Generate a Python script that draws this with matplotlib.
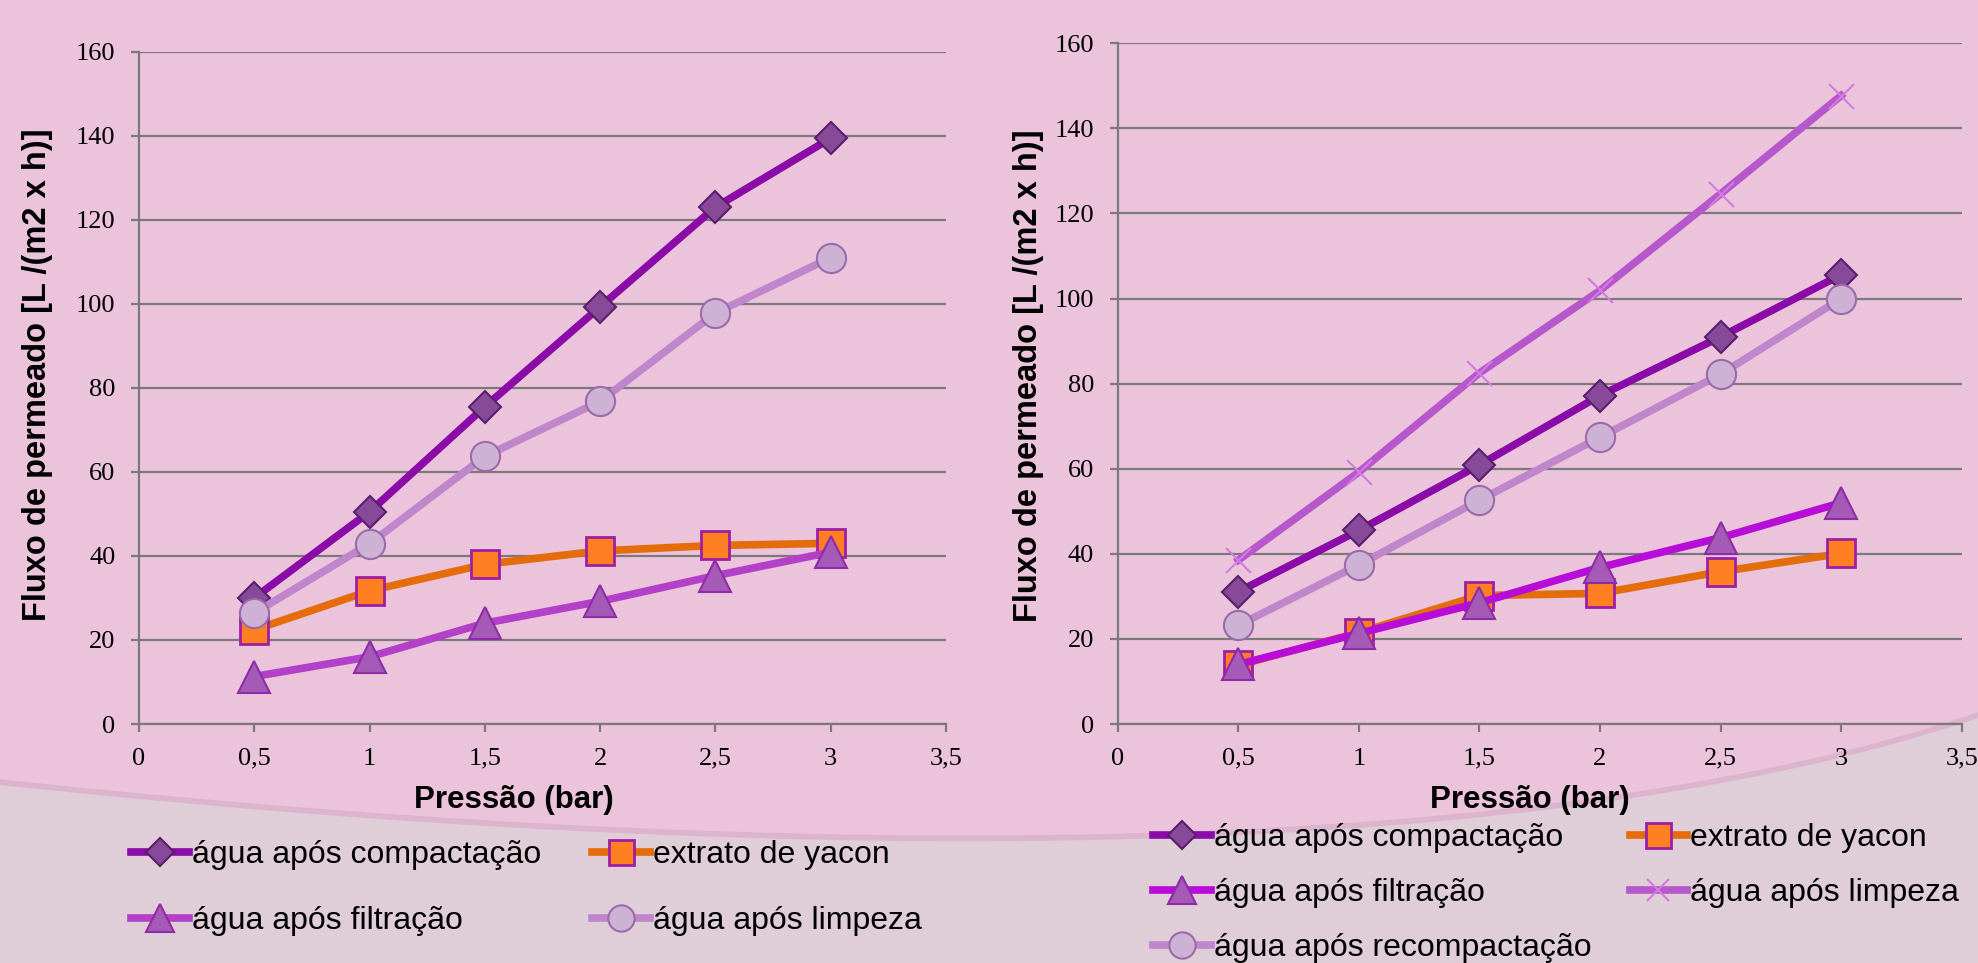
# %% Importing necessary libraries
import matplotlib.pyplot as plt
from matplotlib.path import Path
from matplotlib.patches import PathPatch

# %% Data
pressao = [0.5, 1, 1.5, 2, 2.5, 3]

# left chart
compact_a = [30, 50.5, 75.5, 99.3, 123, 139.4]
extrato_a = [22.4, 31.7, 38, 41.2, 42.5, 43]
filtr_a = [11.3, 16, 24, 29.2, 35.3, 40.9]
limpeza_a = [26.4, 42.9, 63.7, 76.8, 97.8, 111]

# right chart
compact_b = [31.1, 45.5, 60.9, 77.2, 91, 105.6]
extrato_b = [13.8, 21.5, 30.2, 30.7, 35.8, 40.1]
filtr_b = [14, 21.3, 28.5, 36.8, 43.8, 52]
limpeza_b = [38.5, 59.2, 82.5, 101.9, 124.6, 147.7]
recomp_b = [23.2, 37.4, 52.6, 67.4, 82.2, 100]

x_ticks = [0, 0.5, 1, 1.5, 2, 2.5, 3, 3.5]
x_tick_labels = ['0', '0,5', '1', '1,5', '2', '2,5', '3', '3,5']
y_ticks = [0, 20, 40, 60, 80, 100, 120, 140, 160]

W, H = 1978, 963

# %% Figure and background
fig = plt.figure(figsize=(W / 100, H / 100), dpi=100)
fig.patch.set_facecolor('#ebc4dc')


def fxy(px, py):
    # pixel (from top-left) -> figure fraction
    return (px / W, 1 - py / H)


# lower grey band with a curved edge
curve = [fxy(0, 785), fxy(700, 860), fxy(1500, 880), fxy(W, 718)]
verts = [fxy(0, H)] + curve + [fxy(W, H), fxy(0, H)]
codes = [Path.MOVETO, Path.LINETO, Path.CURVE4, Path.CURVE4, Path.CURVE4,
         Path.LINETO, Path.CLOSEPOLY]
shadow = [(x, y + 0.006) for x, y in verts]
fig.add_artist(PathPatch(Path(shadow, codes), facecolor='#dcb4ce', edgecolor='none',
                         transform=fig.transFigure, zorder=-2))
fig.add_artist(PathPatch(Path(verts, codes), facecolor='#dfcdd8', edgecolor='none',
                         transform=fig.transFigure, zorder=-1))

grid_col = '#7a7a7a'
tick_font = dict(family='Liberation Serif', size=19)
lab_font = dict(family='Liberation Sans', size=22.5, weight='bold')
ylab_font = dict(family='Liberation Sans', size=23.5, weight='bold')

s_compact = dict(color='#8a0ba8', marker='D', ms=16, mfc='#874a99', mec='#5c1c6e', mew=1.5)
s_extrato = dict(color='#e46c0a', marker='s', ms=20, mfc='#ff7f22', mec='#9e1fa5', mew=2)
s_filtr_a = dict(color='#b240c9', marker='^', ms=23, mfc='#a65ab8', mec='#8e2ba6', mew=1.5)
s_filtr_b = dict(color='#b80cd8', marker='^', ms=23, mfc='#a65ab8', mec='#8e2ba6', mew=1.5)
s_circ = dict(color='#bf86cc', marker='o', ms=21, mfc='#cdb2d6', mec='#9b6aa8', mew=1.5)
s_x = dict(color='#b658cc', marker='x', ms=18, mfc='#d47ae0', mec='#d47ae0', mew=1.5)


def style_axes(ax):
    ax.set_facecolor('none')
    ax.set_xlim(0, 3.5)
    ax.set_ylim(0, 160)
    ax.set_xticks(x_ticks)
    ax.set_xticklabels(x_tick_labels, fontdict=tick_font)
    ax.set_yticks(y_ticks)
    ax.set_yticklabels([str(v) for v in y_ticks], fontdict=tick_font)
    ax.tick_params(axis='both', direction='out', length=6, width=1.6, color=grid_col)
    ax.tick_params(axis='y', pad=11)
    ax.tick_params(axis='x', pad=11)
    for side in ['top', 'right']:
        ax.spines[side].set_visible(False)
    for side in ['left', 'bottom']:
        ax.spines[side].set_color(grid_col)
        ax.spines[side].set_linewidth(1.6)
    ax.yaxis.grid(True, color=grid_col, linewidth=1.6)
    ax.set_axisbelow(True)


leg_kw = dict(ncol=2, loc='upper left', frameon=False, borderpad=0, borderaxespad=0,
              prop=dict(family='Liberation Sans', size=23), handlelength=1.8,
              handletextpad=0.1, markerscale=0.9)

# %% Left chart
ax1 = fig.add_axes([139 / W, 1 - 724 / H, (946 - 139) / W, (724 - 51.7) / H])
style_axes(ax1)
l1 = ax1.plot(pressao, compact_a, lw=5.5, label='água após compactação', **s_compact)[0]
l2 = ax1.plot(pressao, extrato_a, lw=5.5, label='extrato de yacon', **s_extrato)[0]
l3 = ax1.plot(pressao, filtr_a, lw=5.5, label='água após filtração', **s_filtr_a)[0]
l4 = ax1.plot(pressao, limpeza_a, lw=5.5, label='água após limpeza', **s_circ)[0]

fig.text(38 / W, 1 - 375 / H, 'Fluxo de permeado [L /(m2 x h)]', rotation=90,
         ha='center', va='center', fontdict=ylab_font)
fig.text(514 / W, 1 - 800 / H, 'Pressão (bar)', ha='center', va='center', fontdict=lab_font)

fig.legend(handles=[l1, l3, l2, l4], bbox_to_anchor=fxy(131, 840),
           columnspacing=1.6, labelspacing=1.14, **leg_kw)

# %% Right chart
ax2 = fig.add_axes([1117.7 / W, 1 - 724 / H, (1961.7 - 1117.7) / W, (724 - 43.3) / H])
style_axes(ax2)
r1 = ax2.plot(pressao, compact_b, lw=5.5, label='água após compactação', **s_compact)[0]
r2 = ax2.plot(pressao, extrato_b, lw=5.5, label='extrato de yacon', **s_extrato)[0]
r3 = ax2.plot(pressao, filtr_b, lw=5.5, label='água após filtração', **s_filtr_b)[0]
r4 = ax2.plot(pressao, limpeza_b, lw=5.5, label='água após limpeza', **s_x)[0]
r5 = ax2.plot(pressao, recomp_b, lw=5.5, label='água após recompactação', **s_circ)[0]

fig.text(1028 / W, 1 - 376 / H, 'Fluxo de permeado [L /(m2 x h)]', rotation=90,
         ha='center', va='center', fontdict=ylab_font)
fig.text(1530 / W, 1 - 800 / H, 'Pressão (bar)', ha='center', va='center', fontdict=lab_font)

fig.legend(handles=[r1, r3, r5, r2, r4], bbox_to_anchor=fxy(1153, 823),
           columnspacing=1.2, labelspacing=0.78, **leg_kw)

plt.savefig('out.png', dpi=100, facecolor=fig.get_facecolor())
